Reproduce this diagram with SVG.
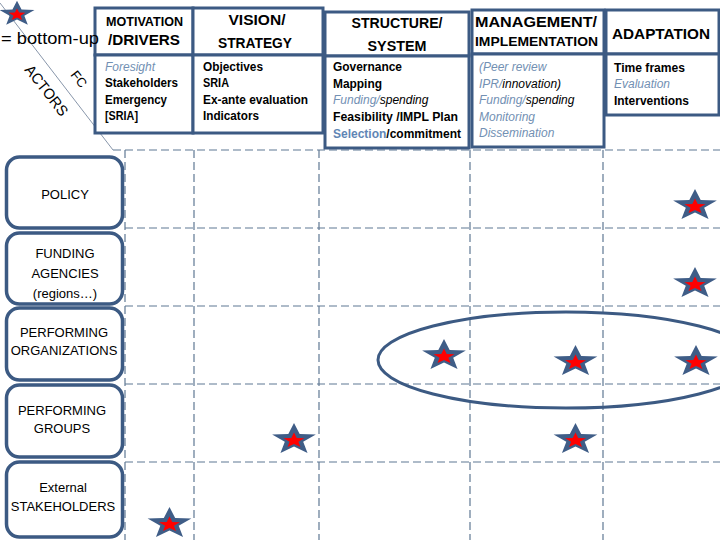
<svg xmlns="http://www.w3.org/2000/svg" xmlns:xlink="http://www.w3.org/1999/xlink" width="720" height="540" viewBox="0 0 720 540">
<style>
text{font-family:"Liberation Sans",Arial,sans-serif;fill:#000}
.hd{font-weight:bold}
.bd{font-weight:bold;font-size:12px}
.it{font-style:italic;font-size:12px;fill:#7290b3}
.itb{font-style:italic;fill:#000}
.lab{font-size:13px;text-anchor:middle}
.box{fill:#fff;stroke:#3c5a83;stroke-width:3}
.rbox{fill:#fff;stroke:#3c5a83;stroke-width:3.5}
.grid{stroke:#5f7893;stroke-width:1.2;stroke-dasharray:8 4;fill:none}
</style>
<defs>
<polygon id="star" points="0,-1 0.247,-0.34 0.951,-0.309 0.399,0.13 0.588,0.809 0,0.42 -0.588,0.809 -0.399,0.13 -0.951,-0.309 -0.247,-0.34"/>
<g id="rstar">
<use xlink:href="#star" href="#star" transform="scale(23,16.6)" fill="#3f5d87"/>
<use xlink:href="#star" href="#star" transform="translate(0,1) scale(11,8)" fill="#ff0000"/>
</g>
</defs>
<rect width="720" height="540" fill="#fff"/>

<g id="grid" class="grid">
<line x1="113" y1="150" x2="720" y2="150"/>
<line x1="125" y1="228" x2="720" y2="228"/>
<line x1="125" y1="306" x2="720" y2="306"/>
<line x1="125" y1="384" x2="720" y2="384"/>
<line x1="125" y1="462" x2="720" y2="462"/>
<line x1="125" y1="150" x2="125" y2="540"/>
<line x1="194" y1="150" x2="194" y2="540"/>
<line x1="319" y1="150" x2="319" y2="540"/>
<line x1="470" y1="150" x2="470" y2="540"/>
<line x1="603" y1="150" x2="603" y2="540"/>
</g>

<g id="connectors">
<line x1="0" y1="3" x2="113" y2="150" stroke="#7a8aa0" stroke-width="0.9"/>
</g>

<g id="motivation">
<rect class="box" x="95" y="8" width="98" height="47"/>
<rect class="box" x="95" y="55" width="98" height="78"/>
<text class="hd" x="106" y="26" font-size="12" textLength="77" lengthAdjust="spacingAndGlyphs">MOTIVATION</text>
<text class="hd" x="108" y="45" font-size="15" textLength="72" lengthAdjust="spacingAndGlyphs">/DRIVERS</text>
<text class="it" x="105" y="71">Foresight</text>
<text class="bd" x="105" y="87" textLength="73" lengthAdjust="spacingAndGlyphs">Stakeholders</text>
<text class="bd" x="105" y="104" textLength="62" lengthAdjust="spacingAndGlyphs">Emergency</text>
<text class="bd" x="105" y="120" textLength="33" lengthAdjust="spacingAndGlyphs">[SRIA]</text>
</g>

<g id="vision">
<rect class="box" x="193" y="8" width="130" height="47"/>
<rect class="box" x="193" y="55" width="130" height="78"/>
<text class="hd" x="257" y="25" font-size="14" text-anchor="middle" textLength="57" lengthAdjust="spacingAndGlyphs">VISION/</text>
<text class="hd" x="255" y="48" font-size="14" text-anchor="middle" textLength="74" lengthAdjust="spacingAndGlyphs">STRATEGY</text>
<text class="bd" x="203" y="71" textLength="60" lengthAdjust="spacingAndGlyphs">Objectives</text>
<text class="bd" x="203" y="87" textLength="26" lengthAdjust="spacingAndGlyphs">SRIA</text>
<text class="bd" x="203" y="104" textLength="105" lengthAdjust="spacingAndGlyphs">Ex-ante evaluation</text>
<text class="bd" x="203" y="120" textLength="56" lengthAdjust="spacingAndGlyphs">Indicators</text>
</g>

<g id="structure">
<rect class="box" x="325" y="12" width="144" height="44"/>
<rect class="box" x="325" y="56" width="144" height="92"/>
<text class="hd" x="397" y="28" font-size="14" text-anchor="middle" textLength="91" lengthAdjust="spacingAndGlyphs">STRUCTURE/</text>
<text class="hd" x="397" y="51" font-size="14" text-anchor="middle" textLength="59" lengthAdjust="spacingAndGlyphs">SYSTEM</text>
<text class="bd" x="333" y="71" textLength="69" lengthAdjust="spacingAndGlyphs">Governance</text>
<text class="bd" x="333" y="88" textLength="49" lengthAdjust="spacingAndGlyphs">Mapping</text>
<text class="it" x="333" y="104">Funding/<tspan class="itb">spending</tspan></text>
<text class="bd" x="333" y="121" textLength="125" lengthAdjust="spacingAndGlyphs">Feasibility /IMPL Plan</text>
<text class="bd" x="333" y="138"><tspan fill="#5f86b5">Selection</tspan>/commitment</text>
</g>

<g id="management">
<rect class="box" x="472" y="10" width="132" height="44"/>
<rect class="box" x="472" y="54" width="132" height="93"/>
<text class="hd" x="475" y="27" font-size="15.5" textLength="122" lengthAdjust="spacingAndGlyphs">MANAGEMENT/</text>
<text class="hd" x="475" y="46" font-size="13.5" textLength="123" lengthAdjust="spacingAndGlyphs">IMPLEMENTATION</text>
<text class="it" x="479" y="71">(Peer review</text>
<text class="it" x="479" y="88">IPR/<tspan class="itb">innovation)</tspan></text>
<text class="it" x="479" y="104">Funding/<tspan class="itb">spending</tspan></text>
<text class="it" x="479" y="121">Monitoring</text>
<text class="it" x="479" y="137">Dissemination</text>
</g>

<g id="adaptation">
<rect class="box" x="606" y="10" width="113" height="44"/>
<rect class="box" x="606" y="54" width="113" height="61"/>
<text class="hd" x="612" y="39" font-size="15" textLength="98" lengthAdjust="spacingAndGlyphs">ADAPTATION</text>
<text class="bd" x="614" y="72" textLength="71" lengthAdjust="spacingAndGlyphs">Time frames</text>
<text class="it" x="614" y="88">Evaluation</text>
<text class="bd" x="614" y="105" textLength="75" lengthAdjust="spacingAndGlyphs">Interventions</text>
</g>

<g id="legend">
<text x="1" y="44" font-size="17" textLength="98" lengthAdjust="spacingAndGlyphs">= bottom-up</text>
<text x="0" y="0" font-size="15" transform="translate(24,70) rotate(52)" textLength="60" lengthAdjust="spacingAndGlyphs">ACTORS</text>
<text x="0" y="0" font-size="13" transform="translate(70,75) rotate(52)">FC</text>
</g>

<g id="policy">
<rect class="rbox" x="6.5" y="157" width="116" height="71" rx="13"/>
<text class="lab" x="65" y="199">POLICY</text>
</g>
<g id="funding">
<rect class="rbox" x="6.5" y="233" width="116" height="71" rx="13"/>
<text class="lab" x="65" y="258">FUNDING</text>
<text class="lab" x="65" y="278">AGENCIES</text>
<text class="lab" x="65" y="298">(regions…)</text>
</g>
<g id="performing-organizations">
<rect class="rbox" x="6.5" y="308" width="116" height="72" rx="13"/>
<text class="lab" x="64" y="337">PERFORMING</text>
<text class="lab" x="64" y="355">ORGANIZATIONS</text>
</g>
<g id="performing-groups">
<rect class="rbox" x="6.5" y="385" width="116" height="72" rx="13"/>
<text class="lab" x="62" y="415">PERFORMING</text>
<text class="lab" x="62" y="433">GROUPS</text>
</g>
<g id="external-stakeholders">
<rect class="rbox" x="6.5" y="462" width="116" height="75" rx="13"/>
<text class="lab" x="63" y="492">External</text>
<text class="lab" x="63" y="511">STAKEHOLDERS</text>
</g>

<g id="cluster">
<ellipse cx="566" cy="360" rx="188" ry="48" fill="none" stroke="#3c5a83" stroke-width="3"/>
</g>

<g id="stars">
<use xlink:href="#rstar" href="#rstar" transform="translate(17,14) scale(0.8)"/>
<use xlink:href="#rstar" href="#rstar" transform="translate(695,205.6)"/>
<use xlink:href="#rstar" href="#rstar" transform="translate(695,283.6)"/>
<use xlink:href="#rstar" href="#rstar" transform="translate(444,355.6)"/>
<use xlink:href="#rstar" href="#rstar" transform="translate(575.5,361.6)"/>
<use xlink:href="#rstar" href="#rstar" transform="translate(696,361.6)"/>
<use xlink:href="#rstar" href="#rstar" transform="translate(575.5,439.6)"/>
<use xlink:href="#rstar" href="#rstar" transform="translate(294,439.6)"/>
<use xlink:href="#rstar" href="#rstar" transform="translate(169.5,523.6)"/>
</g>
</svg>
